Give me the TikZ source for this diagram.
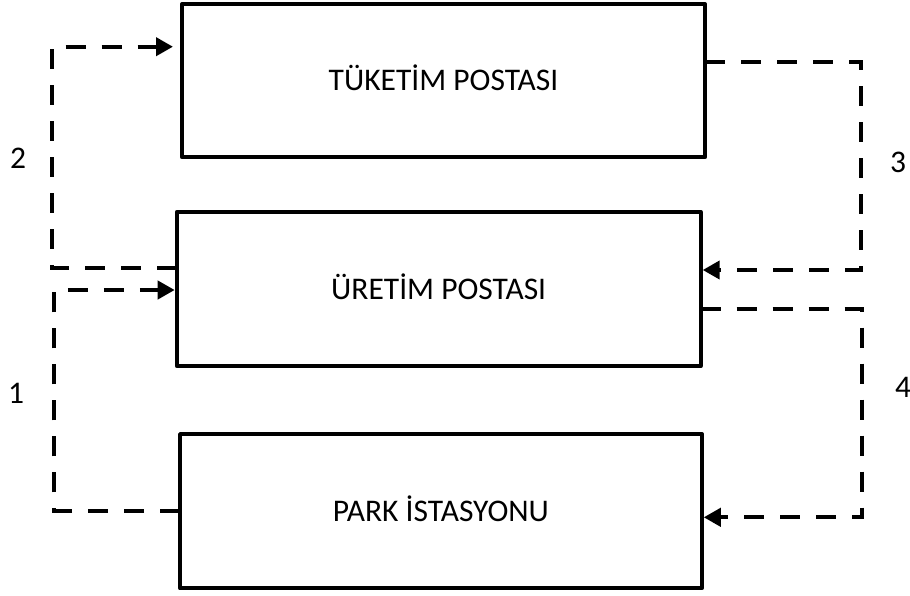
\documentclass[tikz,border=0pt]{standalone}
\usepackage{fontspec}
\setmainfont{Carlito}
\usetikzlibrary{arrows.meta}
\begin{document}
\begin{tikzpicture}[x=1pt,y=-1pt,
  stationbox/.style={draw, line width=4pt, line join=round, inner sep=0pt, outer sep=0pt,
    font=\fontsize{31.5}{38}\selectfont, text height=20pt, text depth=0pt},
  flow/.style={line width=4pt, dash pattern=on 20pt off 16pt, shorten >=2pt,
    -{Triangle[length=17pt,width=18pt]}},
  steplabel/.style={font=\fontsize{31.5}{38}\selectfont, inner sep=0pt}]
\useasboundingbox (0,0) rectangle (910,595);

% stations
\node[stationbox, minimum width=523pt, minimum height=153pt] (tuk) at (443.5,80.8) {TÜKETİM POSTASI};
\node[stationbox, minimum width=524pt, minimum height=154pt] (ure) at (438.7,289) {ÜRETİM POSTASI};
\node[stationbox, minimum width=521.7pt, minimum height=154.3pt] (park) at (440.9,511.2) {PARK İSTASYONU};

% bend points of the flows
\coordinate (b1) at (54.3,510.7);
\coordinate (t1) at (54.3,290);
\coordinate (b2) at (51.7,267.7);
\coordinate (t2) at (51.7,46.7);
\coordinate (t3) at (860.7,61.7);
\coordinate (b3) at (860.7,270);
\coordinate (t4) at (862.3,309.3);
\coordinate (b4) at (862.3,517.3);

% flows between stations
\draw[flow] (park.west |- b1) -- (b1) -- (t1) -- (ure.west |- t1);
\draw[flow, shorten >=9pt] (ure.west |- b2) -- (b2) -- (t2) -- (tuk.west |- t2);
\draw[flow] (tuk.east |- t3) -- (t3) -- (b3) -- (ure.east |- b3);
\draw[flow] (ure.east |- t4) -- (t4) -- (b4) -- (park.east |- b4);

% flow numbers
\node[steplabel] (n1) at (16,393) {1};
\node[steplabel] (n2) at (18,158) {2};
\node[steplabel] (n3) at (898,162) {3};
\node[steplabel] (n4) at (903,387) {4};
\end{tikzpicture}
\end{document}
